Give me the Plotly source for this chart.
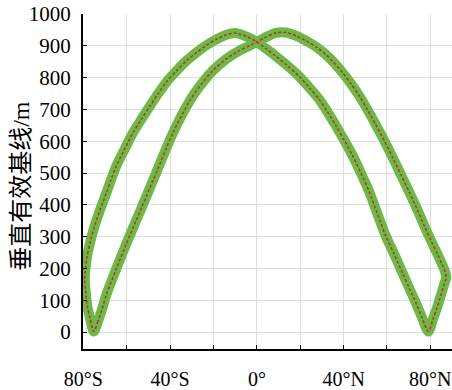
import plotly.graph_objects as go

# Path of the vertical effective baseline (m) versus latitude (deg, S negative)
lat = [
    -75.2, -73.5, -71.5, -69.4, -64.8, -60.2, -55.6, -50.9, -46.0, -38.8,
    -30.9, -25.0, -20.3, -14.3, -8.0, -3.0, 0.0, 4.0, 8.8, 13.4,
    18.0, 22.6, 27.5, 31.9, 35.7, 39.6, 43.5, 47.3, 51.2, 55.0,
    58.9, 62.7, 66.5, 70.3, 74.0, 77.5, 80.5, 83.3, 85.5, 86.9,
    87.3, 86.5, 84.2, 83.0, 81.1, 79.1,
    76.2, 73.4, 70.3, 67.3, 63.5, 59.6, 55.7, 51.9, 48.0, 44.2,
    40.3, 36.5, 32.6, 28.8, 24.0, 19.5, 14.0, 8.8, 4.0, 0.0,
    -4.0, -10.0, -14.3, -18.5, -23.2, -28.0, -32.5, -37.0, -41.7, -45.5,
    -49.4, -53.2, -57.1, -61.0, -64.8, -67.1, -69.4, -72.3, -75.0, -77.0,
    -78.4, -79.2, -79.4, -79.0, -78.3, -77.0, -75.2,
]
baseline = [
    2, 30, 70, 118, 200, 278, 352, 428, 508, 625,
    728, 785, 822, 858, 885, 902, 912, 927, 941, 942,
    932, 916, 896, 872, 846, 815, 780, 742, 697, 650,
    600, 548, 494, 440, 385, 330, 285, 245, 212, 188,
    172, 153, 101, 75, 38, 2,
    45, 91, 138, 184, 243, 300, 370, 440, 500, 554,
    603, 648, 692, 731, 770, 804, 838, 867, 892, 912,
    927, 940, 934, 921, 902, 878, 853, 822, 786, 750,
    710, 670, 627, 575, 523, 482, 438, 385, 330, 280,
    235, 190, 165, 130, 84, 45, 2,
]

x_tickvals = [-80, -60, -40, -20, 0, 20, 40, 60, 80]
x_ticktext = ["80°S", "", "40°S", "", "0°", "", "40°N", "", "80°N"]
y_tickvals = [0, 100, 200, 300, 400, 500, 600, 700, 800, 900, 1000]
y_ticktext = [str(v) for v in y_tickvals]
y_title = "垂直有效基线/m"

GREEN = "#6cb946"
RED = "#c8282d"

fig = go.Figure()
fig.add_trace(go.Scatter(
    x=lat, y=baseline, mode="lines",
    line=dict(color=GREEN, width=10, shape="spline", smoothing=0.8),
    hoverinfo="skip", showlegend=False,
))
fig.add_trace(go.Scatter(
    x=lat, y=baseline, mode="lines",
    line=dict(color=RED, width=1.5, dash="3px,2px", shape="spline", smoothing=0.8),
    showlegend=False,
))

serif = "Liberation Serif, Times New Roman, serif"
fig.update_layout(
    width=452, height=390,
    margin=dict(l=83, r=0, t=14, b=39),
    paper_bgcolor="white", plot_bgcolor="white",
    font=dict(family=serif, size=21, color="black"),
    xaxis=dict(
        range=[-80.2, 90], tickvals=x_tickvals, ticktext=x_ticktext,
        ticks="inside", ticklen=4, tickcolor="black", tickwidth=1,
        showgrid=True, gridcolor="#dedede", gridwidth=1,
        showline=True, linecolor="black", linewidth=2,
        zeroline=False, ticklabelstandoff=11, ticklabeloverflow="allow",
        tickfont=dict(family=serif, size=20, color="black"),
    ),
    yaxis=dict(
        range=[-53, 1000], tickvals=y_tickvals, ticktext=y_ticktext,
        ticks="inside", ticklen=4, tickcolor="black", tickwidth=1,
        showgrid=True, gridcolor="#dedede", gridwidth=1,
        showline=True, linecolor="black", linewidth=2,
        zeroline=False, ticklabelstandoff=6,
        tickfont=dict(family=serif, size=21, color="black"),
    ),
    annotations=[dict(
        text=y_title, textangle=-90, showarrow=False,
        xref="paper", yref="paper", x=-0.168, y=0.487,
        xanchor="center", yanchor="middle",
        font=dict(family="Liberation Serif, Noto Sans CJK SC", size=24, color="black"),
    )],
)

fig.write_html("out.html")
